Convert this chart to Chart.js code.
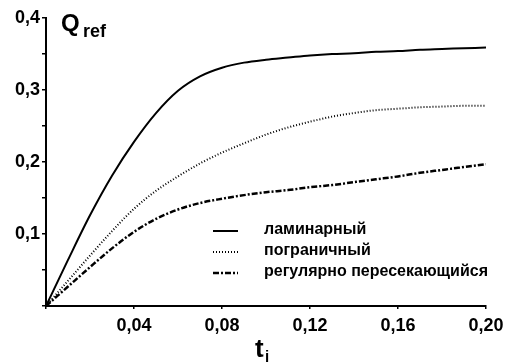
<!DOCTYPE html>
<html>
<head>
<meta charset="utf-8">
<script src="https://cdn.jsdelivr.net/npm/chart.js@4.4.1/dist/chart.umd.min.js"></script>
<style>
  html, body { margin: 0; padding: 0; background: #fff; }
  #wrap { width: 516px; height: 362px; position: relative; }
</style>
</head>
<body>
<div id="wrap"><canvas id="chart"></canvas></div>
<script>
// ===== data =====
const tValues = [0, 0.01, 0.02, 0.03, 0.04, 0.05, 0.06, 0.07, 0.08, 0.09, 0.10,
                 0.11, 0.12, 0.13, 0.14, 0.15, 0.16, 0.17, 0.18, 0.19, 0.20];
const laminar = [0, 0.064, 0.126, 0.181, 0.228, 0.268, 0.299, 0.319, 0.331, 0.338, 0.342,
                 0.345, 0.348, 0.350, 0.351, 0.353, 0.354, 0.356, 0.357, 0.358, 0.359];
const boundary = [0, 0.035, 0.070, 0.104, 0.135, 0.160, 0.180, 0.198, 0.213, 0.226, 0.238,
                  0.248, 0.256, 0.263, 0.268, 0.272, 0.274, 0.276, 0.277, 0.278, 0.278];
const regular = [0, 0.027, 0.054, 0.080, 0.103, 0.121, 0.134, 0.143, 0.149, 0.154, 0.158,
                 0.161, 0.165, 0.168, 0.172, 0.176, 0.180, 0.185, 0.189, 0.193, 0.197];
const seriesNames = ['ламинарный', 'пограничный', 'регулярно пересекающийся'];

function toPoints(arr) {
  return arr.map((v, i) => ({ x: tValues[i], y: v }));
}

const FONT = '"Liberation Sans", Arial, sans-serif';

// ===== axis titles + legend drawn on top =====
const extras = {
  id: 'extras',
  afterDraw(chart) {
    const ctx = chart.ctx;
    ctx.save();
    ctx.fillStyle = '#000';
    ctx.textBaseline = 'alphabetic';
    // Q_ref
    ctx.font = 'bold 24px ' + FONT;
    ctx.fillText('Q', 61, 31);
    ctx.font = 'bold 18px ' + FONT;
    ctx.fillText('ref', 83, 37);
    // t_j
    ctx.font = 'bold 26px ' + FONT;
    ctx.fillText('t', 255, 357);
    ctx.font = 'bold 15px ' + FONT;
    ctx.fillText('j', 265, 361);

    // legend
    const rows = [228, 249, 270];
    chart.data.datasets.forEach((ds, i) => {
      const y = rows[i];
      ctx.strokeStyle = '#000';
      ctx.lineWidth = ds.borderWidth;
      ctx.setLineDash(ds.borderDash || []);
      ctx.beginPath();
      ctx.moveTo(213, y + 3);
      ctx.lineTo(238, y + 3);
      ctx.stroke();
      ctx.setLineDash([]);
      ctx.font = 'bold 16px ' + FONT;
      ctx.fillText(seriesNames[i], 264, y + 6);
    });
    ctx.restore();
  }
};

new Chart(document.getElementById('chart'), {
  type: 'line',
  data: {
    datasets: [
      { label: seriesNames[0], data: toPoints(laminar), borderColor: '#000',
        borderWidth: 2, pointRadius: 0, cubicInterpolationMode: 'monotone', fill: false },
      { label: seriesNames[1], data: toPoints(boundary), borderColor: '#000',
        borderWidth: 2, borderDash: [1, 2], pointRadius: 0, cubicInterpolationMode: 'monotone', fill: false },
      { label: seriesNames[2], data: toPoints(regular), borderColor: '#000',
        borderWidth: 2.5, borderDash: [6, 2, 2, 2], pointRadius: 0, cubicInterpolationMode: 'monotone', fill: false }
    ]
  },
  options: {
    responsive: true,
    maintainAspectRatio: false,
    animation: false,
    layout: { padding: { top: 18, right: 30, left: 0, bottom: 0 } },
    plugins: {
      legend: { display: false },
      tooltip: { enabled: false }
    },
    scales: {
      x: {
        type: 'linear',
        min: 0,
        max: 0.2,
        afterFit: s => { s.height = 56; },
        border: { color: '#000', width: 2 },
        grid: { display: true, drawOnChartArea: false, drawTicks: true, tickLength: 3, color: '#000', lineWidth: 1.5 },
        ticks: {
          stepSize: 0.04,
          color: '#000',
          padding: 6,
          font: { family: FONT, size: 18, weight: 'bold' },
          callback: v => (Math.abs(v) < 1e-9 ? '' : v.toFixed(2).replace('.', ','))
        }
      },
      y: {
        min: 0,
        max: 0.4,
        afterFit: s => { s.width = 46; },
        border: { color: '#000', width: 2 },
        grid: { display: true, drawOnChartArea: false, drawTicks: true, tickLength: 4, color: '#000', lineWidth: 1.5 },
        ticks: {
          stepSize: 0.05,
          color: '#000',
          padding: 2,
          font: { family: FONT, size: 18, weight: 'bold' },
          callback: v => {
            const k = Math.round(v * 100);
            if (k === 0 || k % 10 !== 0) return '';
            return (v).toFixed(1).replace('.', ',');
          }
        }
      }
    }
  },
  plugins: [extras]
});
</script>
</body>
</html>
